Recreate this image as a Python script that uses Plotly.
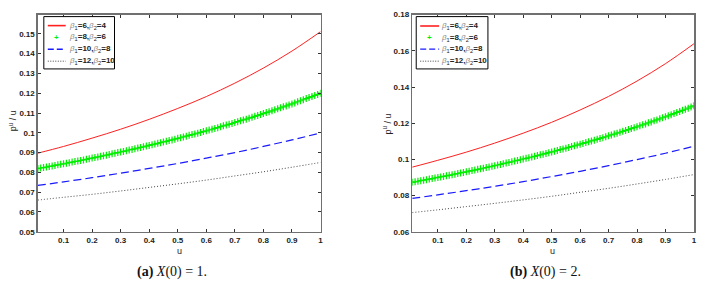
import plotly.graph_objects as go

# ---------------- data ----------------
u_line = [0.01, 0.1, 0.2, 0.3, 0.4, 0.5, 0.6, 0.7, 0.8, 0.9, 1.0]
u_mark = [round(0.01 * k, 2) for k in range(1, 101)]

# panel (a) X(0)=1
a_red = [0.0897, 0.0931, 0.0973, 0.1018, 0.1068, 0.1123, 0.1183, 0.1251, 0.1327, 0.1413, 0.1511]
a_blue = [0.0734, 0.0752, 0.0773, 0.0796, 0.0820, 0.0845, 0.0872, 0.0900, 0.0931, 0.0964, 0.0999]
a_black = [0.0660, 0.0674, 0.0689, 0.0706, 0.0724, 0.0742, 0.0761, 0.0782, 0.0803, 0.0826, 0.0850]
a_green = [
    0.0819, 0.0822, 0.0824, 0.0827, 0.0830, 0.0832, 0.0835, 0.0838, 0.0841, 0.0843,
    0.0846, 0.0849, 0.0852, 0.0855, 0.0857, 0.0860, 0.0863, 0.0866, 0.0869, 0.0872,
    0.0875, 0.0878, 0.0881, 0.0884, 0.0887, 0.0890, 0.0894, 0.0897, 0.0900, 0.0903,
    0.0906, 0.0909, 0.0913, 0.0916, 0.0919, 0.0923, 0.0926, 0.0929, 0.0933, 0.0936,
    0.0940, 0.0943, 0.0947, 0.0950, 0.0954, 0.0957, 0.0961, 0.0964, 0.0968, 0.0972,
    0.0975, 0.0979, 0.0983, 0.0987, 0.0991, 0.0994, 0.0998, 0.1002, 0.1006, 0.1010,
    0.1014, 0.1018, 0.1022, 0.1026, 0.1031, 0.1035, 0.1039, 0.1043, 0.1047, 0.1052,
    0.1056, 0.1061, 0.1065, 0.1069, 0.1074, 0.1078, 0.1083, 0.1088, 0.1092, 0.1097,
    0.1102, 0.1106, 0.1111, 0.1116, 0.1121, 0.1126, 0.1131, 0.1136, 0.1141, 0.1146,
    0.1151, 0.1157, 0.1162, 0.1167, 0.1173, 0.1178, 0.1183, 0.1189, 0.1194, 0.1200,
]

# panel (b) X(0)=2
b_red = [0.0957, 0.0995, 0.1040, 0.1090, 0.1145, 0.1205, 0.1273, 0.1348, 0.1433, 0.1529, 0.1639]
b_blue = [0.0784, 0.0804, 0.0827, 0.0851, 0.0877, 0.0905, 0.0934, 0.0965, 0.0999, 0.1034, 0.1073]
b_black = [0.0706, 0.0721, 0.0739, 0.0757, 0.0776, 0.0796, 0.0818, 0.0840, 0.0864, 0.0889, 0.0916]
b_green = [
    0.0873, 0.0876, 0.0879, 0.0882, 0.0885, 0.0888, 0.0891, 0.0894, 0.0897, 0.0900,
    0.0903, 0.0906, 0.0909, 0.0912, 0.0915, 0.0918, 0.0922, 0.0925, 0.0928, 0.0931,
    0.0935, 0.0938, 0.0941, 0.0945, 0.0948, 0.0951, 0.0955, 0.0958, 0.0962, 0.0965,
    0.0969, 0.0972, 0.0976, 0.0980, 0.0983, 0.0987, 0.0991, 0.0994, 0.0998, 0.1002,
    0.1006, 0.1009, 0.1013, 0.1017, 0.1021, 0.1025, 0.1029, 0.1033, 0.1037, 0.1041,
    0.1045, 0.1049, 0.1054, 0.1058, 0.1062, 0.1066, 0.1071, 0.1075, 0.1079, 0.1084,
    0.1088, 0.1093, 0.1097, 0.1102, 0.1106, 0.1111, 0.1116, 0.1120, 0.1125, 0.1130,
    0.1135, 0.1140, 0.1145, 0.1150, 0.1155, 0.1160, 0.1165, 0.1170, 0.1175, 0.1180,
    0.1186, 0.1191, 0.1196, 0.1202, 0.1207, 0.1213, 0.1218, 0.1224, 0.1230, 0.1235,
    0.1241, 0.1247, 0.1253, 0.1259, 0.1265, 0.1271, 0.1277, 0.1283, 0.1290, 0.1296,
]

x_ticks = [0.1, 0.2, 0.3, 0.4, 0.5, 0.6, 0.7, 0.8, 0.9, 1.0]
x_ticktext = ["0.1", "0.2", "0.3", "0.4", "0.5", "0.6", "0.7", "0.8", "0.9", "1"]
a_yticks = [0.05, 0.06, 0.07, 0.08, 0.09, 0.1, 0.11, 0.12, 0.13, 0.14, 0.15]
a_yticktext = ["0.05", "0.06", "0.07", "0.08", "0.09", "0.1", "0.11", "0.12", "0.13", "0.14", "0.15"]
b_yticks = [0.06, 0.08, 0.1, 0.12, 0.14, 0.16, 0.18]
b_yticktext = ["0.06", "0.08", "0.1", "0.12", "0.14", "0.16", "0.18"]

legend_pairs = [(6, 4), (8, 6), (10, 8), (12, 10)]

def lab(b1, b2):
    g = "<span style='color:#8a8a8a'><i>β</i></span>"
    return f"{g}<sub>1</sub><b>={b1},</b>{g}<sub>2</sub><b>={b2}</b>"

names = [lab(*p) for p in legend_pairs]

RED, GREEN, BLUE, BLACK = "#ff2020", "#00ee00", "#1a1aff", "#444444"

fig = go.Figure()

def add_panel(xa, ya, red, green, blue, black):
    fig.add_trace(go.Scatter(x=u_line, y=red, mode="lines", line=dict(color=RED, width=1, shape="spline"),
                             name=names[0], xaxis=xa, yaxis=ya, showlegend=False))
    fig.add_trace(go.Scatter(x=u_mark, y=green, mode="markers",
                             marker=dict(symbol="cross-thin", size=5, line=dict(color=GREEN, width=1.2)),
                             name=names[1], xaxis=xa, yaxis=ya, showlegend=False))
    fig.add_trace(go.Scatter(x=u_line, y=blue, mode="lines",
                             line=dict(color=BLUE, width=1.2, dash="8px,4px", shape="spline"),
                             name=names[2], xaxis=xa, yaxis=ya, showlegend=False))
    fig.add_trace(go.Scatter(x=u_line, y=black, mode="lines",
                             line=dict(color=BLACK, width=1, dash="1px,2px", shape="spline"),
                             name=names[3], xaxis=xa, yaxis=ya, showlegend=False))

add_panel("x", "y", a_red, a_green, a_blue, a_black)
add_panel("x2", "y2", b_red, b_green, b_blue, b_black)

tickfont = dict(family="Liberation Sans, Arial", size=8, color="#222", weight="bold")
common = dict(showline=True, linecolor="#707070", linewidth=1.5, mirror="ticks", ticks="inside",
              ticklen=3, tickcolor="#333", tickwidth=1, showgrid=False, zeroline=False, tickfont=tickfont,
              ticklabeloverflow="allow")

W, H = 708, 291
ydom = [1 - 235 / H, 1 - 11 / H]
fig.update_layout(
    width=W, height=H, margin=dict(l=0, r=0, t=0, b=0),
    paper_bgcolor="white", plot_bgcolor="white", showlegend=False,
    xaxis=dict(domain=[38 / W, 322 / W], range=[0.01, 1.0005], tickvals=x_ticks, ticktext=x_ticktext,
               anchor="y", **common),
    yaxis=dict(domain=ydom, range=[0.05, 0.1597], tickvals=a_yticks, ticktext=a_yticktext,
               anchor="x", **common),
    xaxis2=dict(domain=[414 / W, 697 / W], range=[0.01, 1.0005], tickvals=x_ticks, ticktext=x_ticktext,
                anchor="y2", **common),
    yaxis2=dict(domain=ydom, range=[0.06, 0.18], tickvals=b_yticks, ticktext=b_yticktext,
                anchor="x2", **common),
)

def px(x):
    return x / W

def py(y):
    return 1 - y / H

# ---- legend boxes (drawn as decorations) ----
def draw_legend(x0, x1, y0, y1, sx0, sx1, tx, rows):
    fig.add_shape(type="rect", xref="paper", yref="paper", x0=px(x0), x1=px(x1), y0=py(y0), y1=py(y1),
                  line=dict(color="black", width=1), fillcolor="white", layer="above")
    styles = [dict(color=RED, width=1.6), None, dict(color=BLUE, width=1.3, dash="6px,3px"),
              dict(color=BLACK, width=1, dash="1px,1.5px")]
    for i, ry in enumerate(rows):
        if styles[i] is not None:
            fig.add_shape(type="line", xref="paper", yref="paper", x0=px(sx0), x1=px(sx1), y0=py(ry), y1=py(ry),
                          line=styles[i], layer="above")
        else:
            fig.add_annotation(x=px((sx0 + sx1) / 2), y=py(ry), xref="paper", yref="paper", text="<b>+</b>",
                               showarrow=False, xanchor="center", yanchor="middle",
                               font=dict(family="Liberation Sans, Arial", size=8, color=GREEN))
        fig.add_annotation(x=px(tx), y=py(ry), xref="paper", yref="paper", text=names[i], showarrow=False,
                           xanchor="left", yanchor="middle",
                           font=dict(family="Liberation Sans, Arial", size=8, color="#222"))

draw_legend(44, 115, 13, 67, 48, 66, 67, [22.3, 34.5, 46.7, 59])
draw_legend(418, 490, 13, 67, 422, 441, 441, [22.7, 34.7, 46.5, 59])

ann_font = dict(family="Liberation Sans, Arial", size=9, color="#222")
cap_font = dict(family="Liberation Serif, Times New Roman", size=14, color="#111")

def ann(x, y, text, font, angle=0):
    fig.add_annotation(x=px(x), y=py(y), xref="paper", yref="paper", text=text, textangle=angle,
                       showarrow=False, xanchor="center", yanchor="middle", font=font)

ann(13, 120, "p<sup>u</sup> / u", ann_font, -90)
ann(389, 124, "p<sup>u</sup> / u", ann_font, -90)
ann(180, 255, "u", ann_font)
ann(555, 255, "u", ann_font)
ann(173, 277, "<b>(a)</b> <i>X</i>(0) = 1.", cap_font)
ann(548, 277, "<b>(b)</b> <i>X</i>(0) = 2.", cap_font)

fig.write_html("out.html", config={"displayModeBar": False, "staticPlot": True})

# remove the default page margin so the figure fills the window exactly
with open("out.html", "r", encoding="utf-8") as f:
    html = f.read()
html = html.replace("<head>", "<head><style>html,body{margin:0;padding:0;overflow:hidden;}</style>", 1)
with open("out.html", "w", encoding="utf-8") as f:
    f.write(html)
